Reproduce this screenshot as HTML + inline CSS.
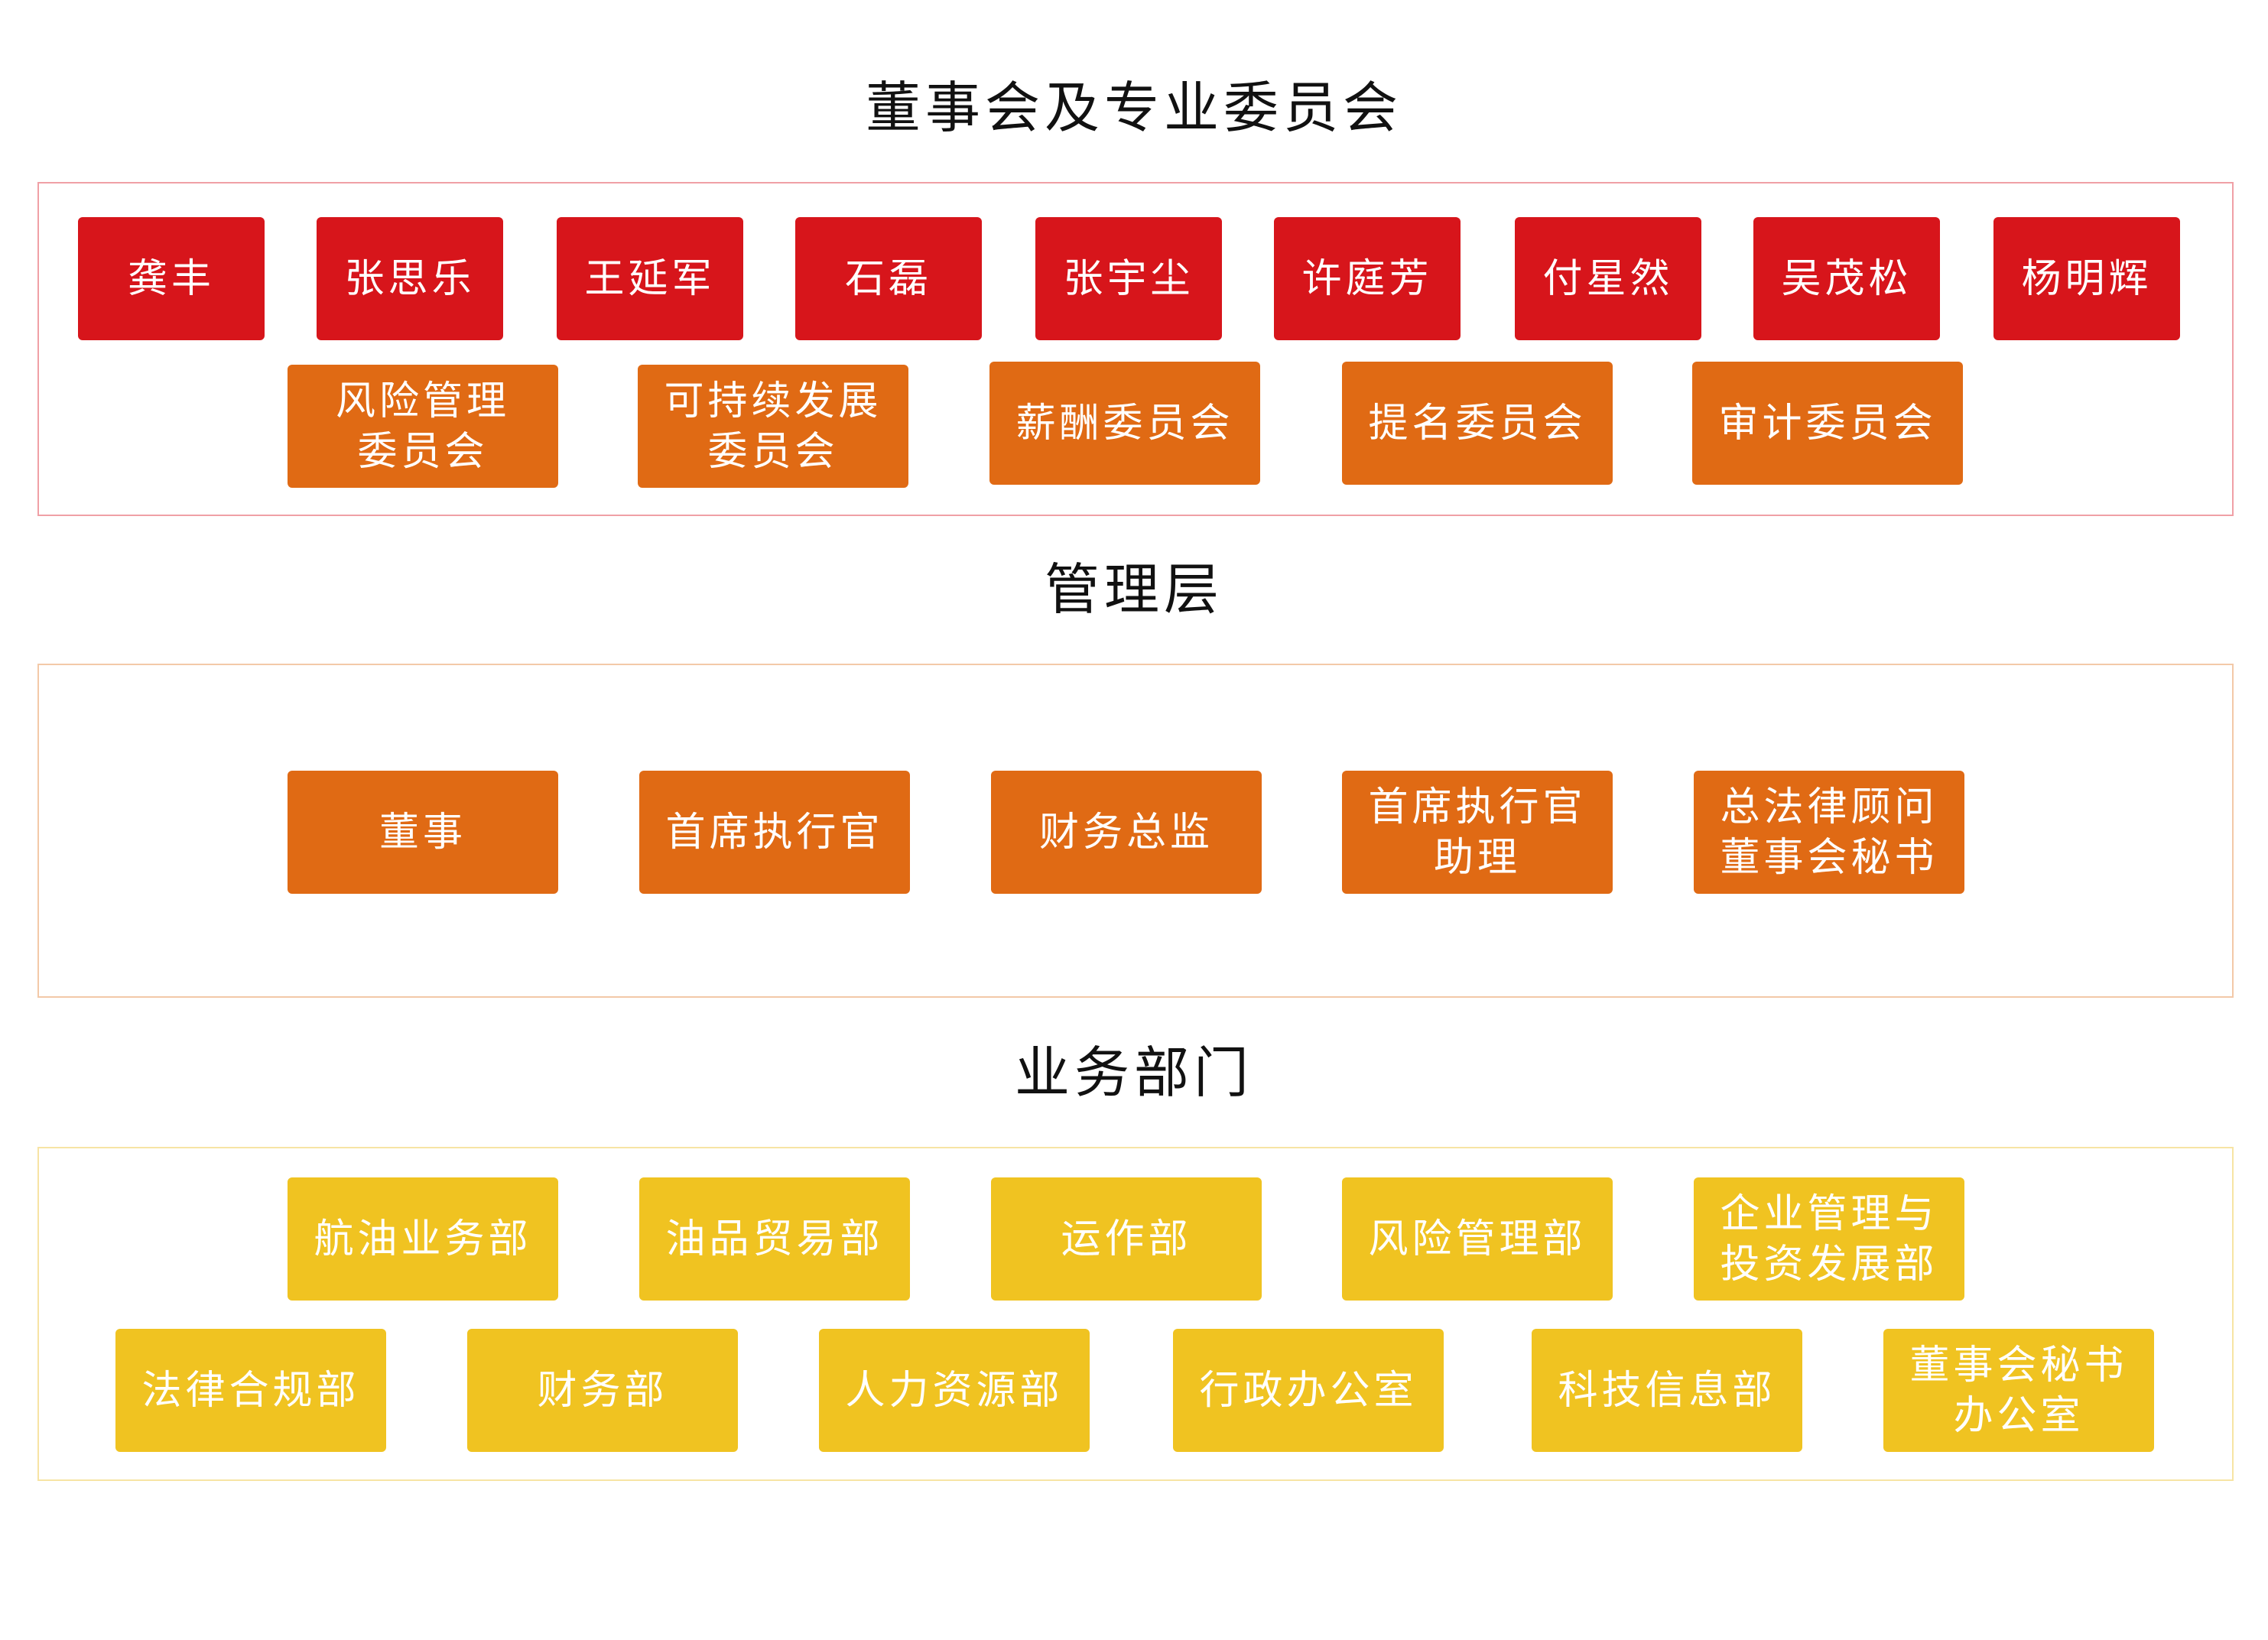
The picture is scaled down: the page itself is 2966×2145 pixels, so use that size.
<!DOCTYPE html>
<html><head><meta charset="utf-8"><style>
html,body{margin:0;padding:0;background:#fff;}
body{width:2966px;height:2145px;position:relative;overflow:hidden;font-family:"Liberation Sans","Noto Sans CJK SC",sans-serif;}
.t{position:absolute;left:0;width:2966px;text-align:center;font-size:72px;color:#111;letter-spacing:6px;line-height:80px;}
.f{position:absolute;left:49px;width:2872px;height:437px;box-sizing:border-box;}
.b{position:absolute;display:flex;align-items:center;justify-content:center;text-align:center;color:#fff;font-size:52px;letter-spacing:5px;line-height:66px;border-radius:6px;}
.r{background:#d7151b;width:244px;height:161px;top:284px;}
.o{background:#e06a14;width:354px;height:161px;}
.y{background:#f0c321;width:354px;height:161px;}
</style></head><body>
<div class="t" style="top:102px">董事会及专业委员会</div>
<div class="f" style="top:238px;border:2px solid #f0a0a6"></div>
<div class="b r" style="left:102px">龚丰</div>
<div class="b r" style="left:414px">张思乐</div>
<div class="b r" style="left:728px">王延军</div>
<div class="b r" style="left:1040px">石磊</div>
<div class="b r" style="left:1354px">张宇尘</div>
<div class="b r" style="left:1666px">许庭芳</div>
<div class="b r" style="left:1981px">付星然</div>
<div class="b r" style="left:2293px">吴茂松</div>
<div class="b r" style="left:2607px">杨明辉</div>
<div class="b o" style="left:376px;top:477px">风险管理<br>委员会</div>
<div class="b o" style="left:834px;top:477px">可持续发展<br>委员会</div>
<div class="b o" style="left:1294px;top:473px">薪酬委员会</div>
<div class="b o" style="left:1755px;top:473px">提名委员会</div>
<div class="b o" style="left:2213px;top:473px">审计委员会</div>

<div class="t" style="top:732px">管理层</div>
<div class="f" style="top:868px;border:2px solid #f3c9a8"></div>
<div class="b o" style="left:376px;top:1008px">董事</div>
<div class="b o" style="left:836px;top:1008px">首席执行官</div>
<div class="b o" style="left:1296px;top:1008px">财务总监</div>
<div class="b o" style="left:1755px;top:1008px">首席执行官<br>助理</div>
<div class="b o" style="left:2215px;top:1008px">总法律顾问<br>董事会秘书</div>

<div class="t" style="top:1364px">业务部门</div>
<div class="f" style="top:1500px;border:2px solid #f7e4a4"></div>
<div class="b y" style="left:376px;top:1540px">航油业务部</div>
<div class="b y" style="left:836px;top:1540px">油品贸易部</div>
<div class="b y" style="left:1296px;top:1540px">运作部</div>
<div class="b y" style="left:1755px;top:1540px">风险管理部</div>
<div class="b y" style="left:2215px;top:1540px">企业管理与<br>投资发展部</div>
<div class="b y" style="left:151px;top:1738px">法律合规部</div>
<div class="b y" style="left:611px;top:1738px">财务部</div>
<div class="b y" style="left:1071px;top:1738px">人力资源部</div>
<div class="b y" style="left:1534px;top:1738px">行政办公室</div>
<div class="b y" style="left:2003px;top:1738px">科技信息部</div>
<div class="b y" style="left:2463px;top:1738px">董事会秘书<br>办公室</div>
</body></html>
